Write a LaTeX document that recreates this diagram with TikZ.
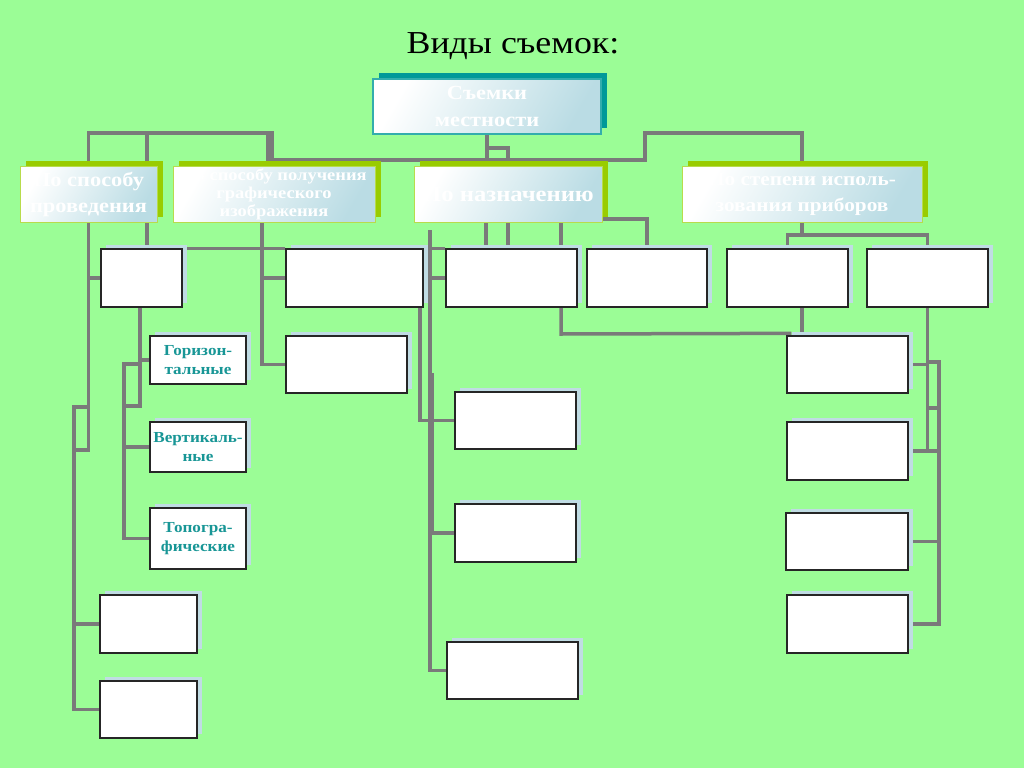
\documentclass[tikz,border=0pt]{standalone}
\usepackage{fontspec}
\setmainfont[FakeStretch=1.12]{Liberation Serif}
\usetikzlibrary{shadows}
\definecolor{bggreen}{RGB}{155,253,150}
\definecolor{linegray}{RGB}{122,122,122}
\definecolor{shblue}{RGB}{192,220,228}
\definecolor{hdrblue}{RGB}{186,220,228}
\definecolor{ygreen}{RGB}{153,204,0}
\definecolor{tealsh}{RGB}{0,153,153}
\definecolor{tealtxt}{RGB}{24,150,150}
\pgfdeclarelayer{back}
\pgfdeclarelayer{lines}
\pgfsetlayers{back,lines,main}
\begin{document}
\begin{tikzpicture}[x=1pt,y=-1pt,
  conn/.style={draw=linegray,line width=3.5pt},
  wbox/.style={draw=black!85,line width=1.3pt,fill=white,inner sep=0pt,
    drop shadow={shadow xshift=5pt,shadow yshift=4pt,fill=shblue,opacity=1}},
  hbox/.style={draw=ygreen!70!white,line width=1pt,left color=white,right color=hdrblue,
    shading angle=60,inner sep=0pt,align=center,text=white,font=\bfseries,
    minimum height=56pt,
    drop shadow={shadow xshift=6pt,shadow yshift=5pt,fill=ygreen,opacity=1}},
  lbox/.style={wbox,align=center,text=tealtxt,font=\bfseries\fontsize{15.3}{19}\selectfont,
    minimum width=96pt}
]
\begin{pgfonlayer}{back}
\fill[bggreen] (0,0) rectangle (1024,768);
\end{pgfonlayer}
\useasboundingbox (0,0) rectangle (1024,768);

\node (title) at (513,46) {\fontsize{32}{40}\selectfont Виды съемок:};

% top box
\node[draw=tealsh!80!white,line width=1.2pt,left color=white,right color=hdrblue,shading angle=60,
  inner sep=0pt,align=center,text=white,font=\bfseries\fontsize{20}{27}\selectfont,
  minimum width=228pt,minimum height=55pt,
  drop shadow={shadow xshift=6pt,shadow yshift=6pt,fill=tealsh,opacity=1}]
  (T) at (487,106.5) {Съемки\\местности};

% header boxes
\node[hbox,minimum width=137pt,font=\bfseries\fontsize{20}{26}\selectfont] (A) at (88.5,194) {По способу\\проведения};
\node[hbox,minimum width=202pt,font=\bfseries\fontsize{16.5}{18}\selectfont] (B) at (274,194) {По способу получения\\графического\\изображения};
\node[hbox,minimum width=188pt,font=\bfseries\fontsize{22}{26}\selectfont] (C) at (508,194) {По назначению};
\node[hbox,minimum width=240pt,font=\bfseries\fontsize{19}{26}\selectfont] (D) at (802,194) {По степени исполь-\\зования приборов};

% level 3
\node[wbox,minimum width=81pt,minimum height=58pt] (b1) at (141.5,278) {};
\node[wbox,minimum width=137pt,minimum height=58pt] (b2) at (354.5,278) {};
\node[wbox,minimum width=131pt,minimum height=58pt] (b3) at (511.5,278) {};
\node[wbox,minimum width=120pt,minimum height=58pt] (b4) at (647,278) {};
\node[wbox,minimum width=121pt,minimum height=58pt] (b5) at (787.5,278) {};
\node[wbox,minimum width=121pt,minimum height=58pt] (b6) at (927.5,278) {};

\node[wbox,minimum width=121pt,minimum height=57pt] (b2b) at (346.5,364.5) {};
\node[wbox,minimum width=121pt,minimum height=57pt] (R1) at (847.5,364.5) {};
\node[wbox,minimum width=121pt,minimum height=58pt] (R2) at (847.5,451) {};
\node[wbox,minimum width=122pt,minimum height=57pt] (R3) at (847,541.5) {};
\node[wbox,minimum width=121pt,minimum height=58pt] (R4) at (847.5,624) {};
\node[wbox,minimum width=121pt,minimum height=57pt] (M1) at (515.5,420.5) {};
\node[wbox,minimum width=121pt,minimum height=58pt] (M2) at (515.5,533) {};
\node[wbox,minimum width=131pt,minimum height=57pt] (M3) at (512.5,670.5) {};
\node[lbox,minimum height=48pt] (G) at (198,360) {Горизон-\\тальные};
\node[lbox,minimum height=50pt] (V) at (198,447) {Вертикаль-\\ные};
\node[lbox,minimum height=61pt] (Tp) at (198,538.5) {Топогра-\\фические};
\node[wbox,minimum width=97pt,minimum height=58pt] (L1) at (148.5,624) {};
\node[wbox,minimum width=97pt,minimum height=57pt] (L2) at (148.5,709.5) {};

\coordinate (c430) at (430,230);

\begin{pgfonlayer}{lines}
% top trunk
\draw[conn] (T.south) -- (487,148) -| (C.north);
\draw[conn] (487,148) -- (487,160);
\draw[conn] (268,160) -- (645,160) -- (645,133) -| (D.north);
\draw[conn] ([xshift=-2pt]B.north) -- (272,133) -| (A.north);
\draw[conn] (268,133) -- ([xshift=-6pt]B.north);
\draw[conn] (147,133) -- ([xshift=58.5pt]A.north);
% left
\draw[conn] (A.south) -- (88.5,450) -- (74,450) -- (74,407) -- (88.5,407);
\draw[conn] (74,407) -- (74,709.5) -- (L2.west);
\draw[conn] (74,624) -- (L1.west);
\draw[conn] (88.5,278) -- (b1.west);
\draw[conn] ([xshift=58.5pt]A.south) -- ([xshift=5.5pt]b1.north);
\draw[conn] ([xshift=-1.5pt]b1.south) -- (140,406) -- (124,406) -- (124,364) -- (140,364);
\draw[conn] (124,406) -- (124,538.5) -- (Tp.west);
\draw[conn] (124,447) -- (V.west);
\draw[conn] (140,360) -- (G.west);
% B
\draw[conn] ([xshift=-12pt]B.south) -- (262,364.5) -- (b2b.west);
\draw[conn] (262,278) -- (b2.west);
\draw[conn] (b1.north east) -- (b2.north west);
\draw[conn] (b2.north east) -- (b3.north west);
% middle
\draw[conn] (c430) -- (430,670.5) -- (M3.west);
\draw[conn] (430,533) -- (M2.west);
\draw[conn] (430,278) -- (b3.west);
\draw[draw=linegray,line width=2.5pt] (433,373) -- (433,533);
\draw[conn] ([xshift=65.5pt]b2.south) -- (420,420.5) -- (M1.west);
% C
\draw[conn] ([xshift=-22pt]C.south) -- ([xshift=-25.5pt]b3.north);
\draw[conn] (C.south) -- ([xshift=-3.5pt]b3.north);
\draw[conn] ([xshift=53pt]C.south) -- ([xshift=49.5pt]b3.north);
\draw[conn] ([yshift=-25pt]C.east) -| (b4.north);
\draw[conn] ([xshift=49.5pt]b3.south) -- (561,334) -- ([xshift=5pt,yshift=2pt]R1.north west);
\draw[conn] ([xshift=14.5pt]b5.south) -- ([xshift=-45.5pt]R1.north);
% D
\draw[conn] (D.south) -- (802,235);
\draw[conn] (b5.north) -- (787.5,235) -- (927.5,235) -- (b6.north);
\draw[conn] (b6.south) -- (927.5,451);
\draw[conn] (927.5,362) -- (939,362) -- (939,624) -- (R4.east);
\draw[conn] (927.5,408) -- (939,408);
\draw[conn] (R1.east) -- (927.5,364.5);
\draw[conn] (R2.east) -- (939,451);
\draw[conn] (R3.east) -- (939,541.5);
\end{pgfonlayer}
\end{tikzpicture}
\end{document}
